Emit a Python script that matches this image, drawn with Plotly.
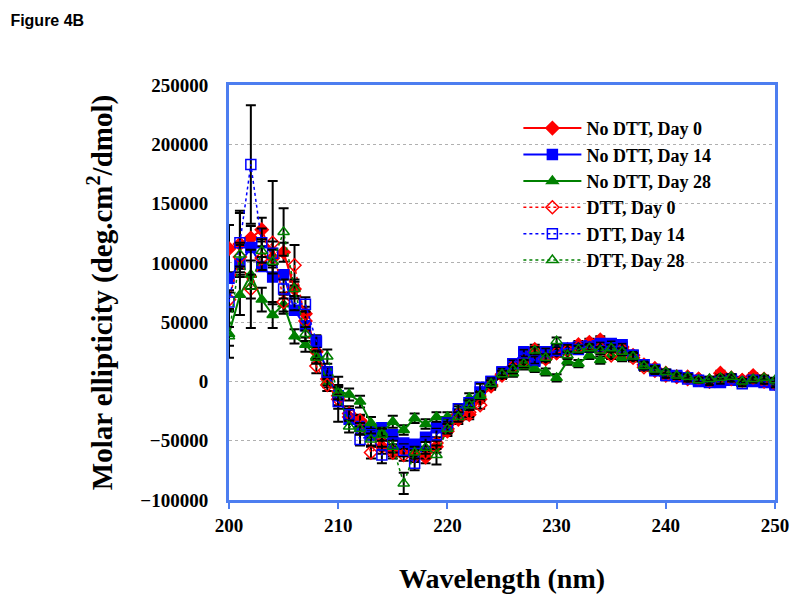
import plotly.graph_objects as go

wavelength = list(range(200, 251))

# No DTT series
nodtt_day0 = [112000, 116000, 121000, 128000, 104000, 109000, 78000, 57000, 25000, 2000,
              -12000, -30000, -34000, -42000, -55000, -58000, -58000, -62000, -64000, -55000,
              -42000, -32000, -28000, -15000, -4000, 6000, 12000, 17000, 27000, 20000,
              24000, 27000, 31000, 33000, 35000, 30000, 29000, 22000, 14000, 11000,
              7000, 4000, 4000, 2000, 0, 7000, 3000, 1000, 5000, 2000, -1000]
nodtt_day14 = [87000, 99000, 113000, 97000, 88000, 90000, 60000, 47000, 33000, 8000,
               -12000, -32000, -38000, -42000, -39000, -45000, -52000, -53000, -47000, -39000,
               -37000, -27000, -18000, -9000, 0, 8000, 15000, 25000, 17000, 24000,
               27000, 28000, 29000, 30000, 32000, 32000, 31000, 22000, 14000, 10000,
               6000, 5000, 3000, 0, 0, -1000, 1000, 0, 0, -1000, -2000]
nodtt_day28 = [40000, 73000, 90000, 69000, 56000, 65000, 38000, 31000, 21000, 0,
               -8000, -11000, -17000, -35000, -43000, -34000, -41000, -31000, -36000, -30000,
               -30000, -25000, -14000, -11000, -3000, 5000, 7000, 13000, 11000, 8000,
               3000, 17000, 15000, 22000, 18000, 22000, 20000, 20000, 13000, 9000,
               7000, 4000, 3000, 1000, -1000, 1000, 4000, -2000, 1000, 1000, 0]

# DTT series
dtt_day0 = [69000, 105000, 78000, 104000, 117000, 67000, 98000, 51000, 13000, -3000,
            -15000, -27000, -33000, -60000, -52000, -60000, -62000, -63000, -60000, -52000,
            -40000, -28000, -26000, -20000, -3000, 5000, 12000, 17000, 25000, 19000,
            24000, 26000, 29000, 30000, 28000, 22000, 27000, 20000, 12000, 9000,
            5000, 4000, 2000, 2000, 0, 4000, 2000, 1000, 3000, 0, -2000]
dtt_day14 = [67000, 117000, 183000, 117000, 108000, 78000, 66000, 65000, 34000, 8000,
             -17000, -28000, -49000, -45000, -62000, -52000, -58000, -69000, -52000, -45000,
             -35000, -23000, -18000, -5000, 0, 8000, 15000, 24000, 18000, 25000,
             26000, 28000, 27000, 29000, 30000, 31000, 29000, 22000, 14000, 9000,
             5000, 4000, 2000, 1000, -1000, 0, 2000, -2000, 1000, 0, -3000]
dtt_day28 = [38000, 107000, 80000, 110000, 101000, 126000, 78000, 40000, 20000, 21000,
             -10000, -38000, -40000, -49000, -45000, -55000, -86000, -60000, -56000, -62000,
             -40000, -30000, -20000, -12000, -2000, 6000, 10000, 15000, 26000, 20000,
             34000, 22000, 27000, 28000, 26000, 28000, 25000, 21000, 13000, 10000,
             8000, 5000, 4000, 1000, 2000, 3000, 4000, 0, 2000, 3000, 1000]

# error bars (symmetric)
err_nodtt_day0 = [20000, 28000, 10000, 10000, 8000, 8000, 6000, 6000, 5000, 5000,
                  8000, 6000, 5000, 5000, 6000, 5000, 5000, 5000, 5000, 5000,
                  4000, 4000, 4000, 3000, 3000, 3000, 3000, 3000, 4000, 3000,
                  3000, 3000, 3000, 3000, 3000, 3000, 3000, 3000, 3000, 3000,
                  2000, 2000, 2000, 2000, 2000, 2000, 2000, 2000, 2000, 2000, 2000]
err_nodtt_day28 = [20000, 17000, 12000, 10000, 11000, 8000, 6000, 6000, 5000, 5000,
                   5000, 5000, 5000, 5000, 4000, 5000, 4000, 4000, 4000, 4000,
                   4000, 4000, 4000, 3000, 3000, 3000, 3000, 3000, 3000, 3000,
                   3000, 3000, 3000, 3000, 3000, 3000, 3000, 3000, 3000, 3000,
                   2000, 2000, 2000, 2000, 2000, 2000, 2000, 2000, 2000, 2000, 2000]
err_dtt_day0 = [8000, 10000, 33000, 10000, 52000, 8000, 17000, 8000, 6000, 5000,
                19000, 6000, 5000, 5000, 6000, 5000, 5000, 5000, 5000, 5000,
                4000, 4000, 4000, 3000, 3000, 3000, 3000, 3000, 3000, 3000,
                3000, 3000, 3000, 3000, 3000, 3000, 3000, 3000, 3000, 3000,
                2000, 2000, 2000, 2000, 2000, 2000, 2000, 2000, 2000, 2000, 2000]
err_dtt_day14 = [8000, 25000, 50000, 12000, 10000, 8000, 6000, 6000, 5000, 4000,
                 6000, 5000, 5000, 4000, 7000, 5000, 5000, 6000, 5000, 5000,
                 4000, 4000, 4000, 3000, 3000, 3000, 3000, 3000, 3000, 3000,
                 3000, 3000, 3000, 3000, 3000, 3000, 3000, 3000, 3000, 3000,
                 2000, 2000, 2000, 2000, 2000, 2000, 2000, 2000, 2000, 2000, 2000]
err_dtt_day28 = [8000, 10000, 10000, 10000, 10000, 20000, 8000, 6000, 5000, 6000,
                 5000, 5000, 5000, 5000, 5000, 5000, 9000, 5000, 5000, 8000,
                 4000, 4000, 4000, 3000, 3000, 3000, 3000, 3000, 3000, 3000,
                 3000, 3000, 3000, 3000, 3000, 3000, 3000, 3000, 3000, 3000,
                 2000, 2000, 2000, 2000, 2000, 2000, 2000, 2000, 2000, 2000, 2000]

series = [
    ("No DTT, Day 0", nodtt_day0, err_nodtt_day0, "red", "diamond", "solid"),
    ("No DTT, Day 14", nodtt_day14, None, "blue", "square", "solid"),
    ("No DTT, Day 28", nodtt_day28, err_nodtt_day28, "green", "triangle-up", "solid"),
    ("DTT, Day 0", dtt_day0, err_dtt_day0, "red", "diamond-open", "dot"),
    ("DTT, Day 14", dtt_day14, err_dtt_day14, "blue", "square-open", "dot"),
    ("DTT, Day 28", dtt_day28, err_dtt_day28, "green", "triangle-up-open", "dot"),
]

fig = go.Figure()
for name, vals, err, color, symbol, dash in series:
    eb = None
    if err is not None:
        eb = dict(type="data", array=err, visible=True, color="black", thickness=2, width=5)
    fig.add_trace(go.Scatter(
        x=wavelength, y=vals, name=name, mode="lines+markers",
        line=dict(color=color, width=2 if dash == "solid" else 1.5, dash=dash),
        marker=dict(symbol=symbol, size=10, color=color, line=dict(color=color, width=1.5)),
        error_y=eb,
    ))

serif = "Liberation Serif, Times New Roman, serif"
axis_blue = "#4d7ef0"

# the page body has an 8px margin, so the figure is 8px smaller and shifted
fig.update_layout(
    width=792, height=595,
    margin=dict(l=221, r=25, t=77, b=103),
    paper_bgcolor="white", plot_bgcolor="white",
    title=dict(text="Figure 4B", x=0.003, xanchor="left", y=0.98, yanchor="middle",
               font=dict(family="Liberation Sans, Arial, sans-serif", size=16, color="black", weight="bold")),
    legend=dict(x=0.53, y=0.94, xanchor="left", yanchor="top", bgcolor="rgba(0,0,0,0)",
                font=dict(family=serif, size=18, color="black", weight="bold"),
                itemwidth=58, tracegroupgap=0),
    showlegend=True,
)
fig.update_xaxes(
    range=[200, 250], dtick=10, showgrid=False, zeroline=False,
    showline=True, linecolor=axis_blue, linewidth=3, mirror=True,
    ticks="outside", tickcolor=axis_blue, tickwidth=2, ticklen=6,
    tickfont=dict(family=serif, size=19, color="black", weight="bold"),
    title=dict(text="Wavelength (nm)", standoff=34,
               font=dict(family=serif, size=28, color="black", weight="bold")),
)
fig.update_yaxes(
    range=[-100000, 250000], dtick=50000, tickformat="d",
    showgrid=True, gridcolor="#b0b0b0", griddash="dot", gridwidth=1, zeroline=False,
    showline=True, linecolor=axis_blue, linewidth=3, mirror=True, ticks="",
    ticklabelstandoff=14,
    tickfont=dict(family=serif, size=19, color="black", weight="bold"),
    title=dict(text="Molar ellipticity (deg.cm<sup>2</sup>/dmol)", standoff=20,
               font=dict(family=serif, size=29, color="black", weight="bold")),
)

fig.write_html("out.html")
